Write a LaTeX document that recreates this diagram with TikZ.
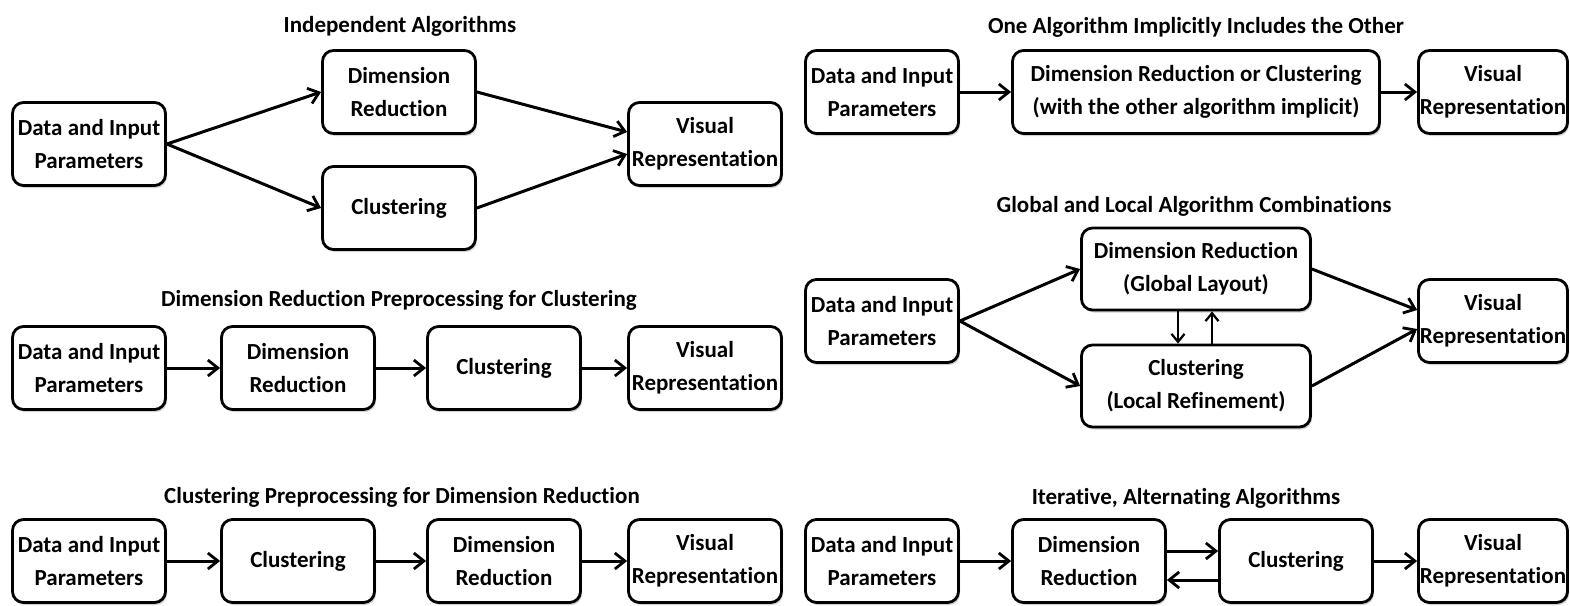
\documentclass[tikz,border=0pt]{standalone}
\usepackage{fontspec}
\setmainfont{Carlito}[Ligatures=NoCommon]
\usetikzlibrary{arrows.meta,shadows,calc}
\begin{document}
\begin{tikzpicture}[x=1pt,y=-1pt,
  box/.style={draw=black, line width=2.8pt, rounded corners=11pt, fill=white,
    minimum width=153pt, minimum height=83pt, inner sep=0pt, align=center,
    font=\bfseries\fontsize{23}{33}\selectfont,
    drop shadow={shadow xshift=1.5pt, shadow yshift=-2.5pt, fill=black!30, opacity=0.6}},
  ttl/.style={font=\bfseries\fontsize{23}{28}\selectfont, inner sep=0pt},
  arr/.style={line width=3pt, -{Straight Barb[length=10pt,width=16pt,line width=2.8pt]}},
  thin arr/.style={line width=2.4pt, -{Straight Barb[length=8pt,width=13pt,line width=2.2pt]}}
]
\useasboundingbox (0,0) rectangle (1570,605);

% ---------- Independent Algorithms ----------
\node[ttl] (t1) at (400,26) {Independent Algorithms};
\node[box] (d1) at (89,144) {Data and Input\\Parameters};
\node[box] (r1) at (399,92) {Dimension\\Reduction};
\node[box] (c1) at (399,208) {Clustering};
\node[box] (v1) at (705,144) {Visual\\Representation};
\draw[arr] (d1.east) -- (r1.west);
\draw[arr] (d1.east) -- (c1.west);
\draw[arr] (r1.east) -- ([yshift=12pt]v1.west);
\draw[arr] (c1.east) -- ([yshift=-10pt]v1.west);

% ---------- DR preprocessing for clustering ----------
\node[ttl] (t2) at (399,300) {Dimension Reduction Preprocessing for Clustering};
\node[box] (d2) at (89,368) {Data and Input\\Parameters};
\node[box] (r2) at (298,368) {Dimension\\Reduction};
\node[box] (c2) at (504,368) {Clustering};
\node[box] (v2) at (705,368) {Visual\\Representation};
\draw[arr] (d2) -- (r2);
\draw[arr] (r2) -- (c2);
\draw[arr] (c2) -- (v2);

% ---------- Clustering preprocessing for DR ----------
\node[ttl] (t3) at (402,497) {Clustering Preprocessing for Dimension Reduction};
\node[box] (d3) at (89,561) {Data and Input\\Parameters};
\node[box] (c3) at (298,561) {Clustering};
\node[box] (r3) at (504,561) {Dimension\\Reduction};
\node[box] (v3) at (705,561) {Visual\\Representation};
\draw[arr] (d3) -- (c3);
\draw[arr] (c3) -- (r3);
\draw[arr] (r3) -- (v3);

% ---------- One algorithm implicitly includes the other ----------
\node[ttl] (t4) at (1196,27) {One Algorithm Implicitly Includes the Other};
\node[box] (d4) at (882,92) {Data and Input\\Parameters};
\node[box, minimum width=367pt] (b4) at (1196,92) {Dimension Reduction or Clustering\\(with the other algorithm implicit)};
\node[box, minimum width=149pt] (v4) at (1493,92) {Visual\\Representation};
\draw[arr] (d4) -- (b4);
\draw[arr] (b4) -- (v4);

% ---------- Global and local ----------
\node[ttl] (t5) at (1194,206) {Global and Local Algorithm Combinations};
\node[box] (d5) at (882,321) {Data and Input\\Parameters};
\node[box, minimum width=229pt, minimum height=82pt] (r5) at (1196,269) {Dimension Reduction\\(Global Layout)};
\node[box, minimum width=229pt, minimum height=82pt] (c5) at (1196,386) {Clustering\\(Local Refinement)};
\node[box, minimum width=149pt] (v5) at (1493,321) {Visual\\Representation};
\draw[arr] (d5.east) -- (r5.west);
\draw[arr] (d5.east) -- (c5.west);
\draw[arr] (r5.east) -- ([yshift=11pt]v5.west);
\draw[arr] (c5.east) -- ([yshift=-8pt]v5.west);
\draw[thin arr] ([xshift=-18pt]r5.south) -- ([xshift=-18pt]c5.north);
\draw[thin arr] ([xshift=16pt]c5.north) -- ([xshift=16pt]r5.south);

% ---------- Iterative, alternating ----------
\node[ttl] (t6) at (1186,498) {Iterative, Alternating Algorithms};
\node[box] (d6) at (882,561) {Data and Input\\Parameters};
\node[box] (r6) at (1089,561) {Dimension\\Reduction};
\node[box] (c6) at (1296,561) {Clustering};
\node[box, minimum width=149pt] (v6) at (1493,561) {Visual\\Representation};
\draw[arr] (d6) -- (r6);
\draw[arr] ([yshift=10pt]r6.east) -- ([yshift=10pt]c6.west);
\draw[arr] ([yshift=-19pt]c6.west) -- ([yshift=-19pt]r6.east);
\draw[arr] (c6) -- (v6);
\end{tikzpicture}
\end{document}
